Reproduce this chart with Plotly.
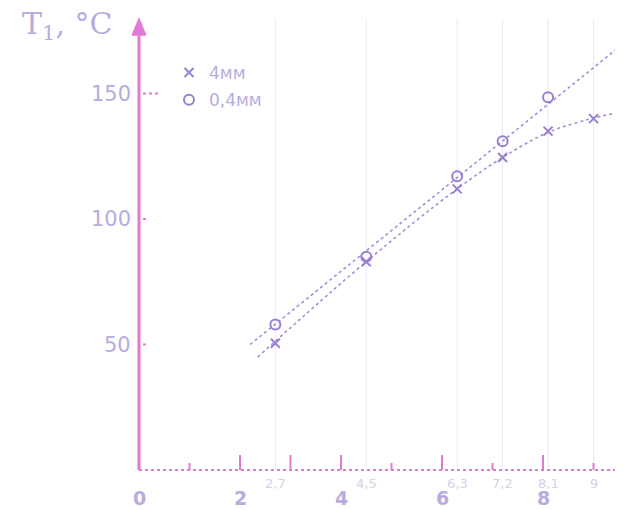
import plotly.graph_objects as go

# ---- data ----
x_pts = [2.7, 4.5, 6.3, 7.2, 8.1, 9.0]
t_4mm = [50.5, 83, 112, 124.5, 135, 140]          # crosses
x_pts_04 = [2.7, 4.5, 6.3, 7.2, 8.1]
t_04mm = [58, 85, 117, 131, 148.5]                 # circles

# drawn trend lines
line_04_x = [2.2, 9.6]
line_04_y = [50, 170]
line_4_x = [2.35, 4.5, 6.3, 7.2, 8.1, 9.0, 9.65]
line_4_y = [45, 83, 112, 124.5, 134.5, 140.2, 143]

major_x_labels = [0, 2, 4, 6, 8]
minor_x_vals = [2.7, 4.5, 6.3, 7.2, 8.1, 9]
minor_x_labels = ["2,7", "4,5", "6,3", "7,2", "8,1", "9"]
tall_ticks = [2, 3, 4, 6, 8]
short_ticks = [1, 5, 7, 9]
y_labels = [50, 100, 150]

W, H = 623, 510
PX_X = 50.5
PX_Y = 2.51
PADL, PADB = 12, 10          # px of room left of / below the axes
ML, MT, MB = 119, 4, 38
XL = PADL / PX_X
YB = PADB / PX_Y
X_MAX = (W - ML) / PX_X - XL
Y_MAX = (H - MT - MB) / PX_Y - YB
Y_TIP = 180.0

axis_col = "#e07ad4"
text_col = "#b9abe0"
mark_col = "#9a7fd0"
line_col = "#a98ad8"

fig = go.Figure()

fig.add_trace(go.Scatter(x=line_04_x, y=line_04_y, mode="lines",
                         line=dict(color=line_col, width=1.6, dash="dot"),
                         showlegend=False, hoverinfo="skip"))
fig.add_trace(go.Scatter(x=line_4_x, y=line_4_y, mode="lines", line_shape="spline",
                         line=dict(color=line_col, width=1.6, dash="dot"),
                         showlegend=False, hoverinfo="skip"))
fig.add_trace(go.Scatter(x=x_pts, y=t_4mm, mode="markers", name="4мм",
                         legendgroup="a",
                         marker=dict(symbol="x-thin-open", size=9, color=mark_col,
                                     line=dict(width=2, color=mark_col))))
fig.add_trace(go.Scatter(x=x_pts_04, y=t_04mm, mode="markers", name="0,4мм",
                         legendgroup="b",
                         marker=dict(symbol="circle-open", size=10, color=mark_col,
                                     line=dict(width=2, color=mark_col))))

shapes = []
# faint vertical guide lines
for v in minor_x_vals:
    shapes.append(dict(type="line", xref="x", yref="y", x0=v, x1=v, y0=0, y1=Y_TIP,
                       layer="below",
                       line=dict(color="rgba(215,205,240,0.45)", width=1)))
# axes
shapes.append(dict(type="line", xref="x", yref="y", x0=0, x1=X_MAX, y0=0, y1=0,
                   line=dict(color=axis_col, width=2, dash="dot")))
shapes.append(dict(type="line", xref="x", yref="y", x0=0, x1=0, y0=0, y1=Y_TIP - 8 / PX_Y,
                   line=dict(color=axis_col, width=3)))
# x ticks
for v in tall_ticks:
    shapes.append(dict(type="line", xref="x", yref="y", x0=v, x1=v, y0=0, y1=15 / PX_Y,
                       line=dict(color=axis_col, width=2)))
for v in short_ticks:
    shapes.append(dict(type="line", xref="x", yref="y", x0=v, x1=v, y0=0, y1=7 / PX_Y,
                       line=dict(color=axis_col, width=2)))
# y ticks
for v in y_labels:
    ln = 16 if v == 150 else 6
    shapes.append(dict(type="line", xref="x", yref="y", x0=4 / PX_X, x1=(4 + ln) / PX_X,
                       y0=v, y1=v, line=dict(color=axis_col, width=2, dash="dot")))
# arrow head on y axis
shapes.append(dict(type="path", xref="x", yref="y",
                   path=f"M {-7/PX_X} {Y_TIP-17/PX_Y} L 0 {Y_TIP} L {7/PX_X} {Y_TIP-17/PX_Y} Z",
                   fillcolor=axis_col, line=dict(color=axis_col, width=1)))

annotations = []
for v in major_x_labels:
    annotations.append(dict(x=v, y=0, xref="x", yref="y", text=str(v), showarrow=False,
                            yshift=-28, font=dict(size=19, color=text_col,
                                                  family="DejaVu Sans", weight="bold")))
for v, t in zip(minor_x_vals, minor_x_labels):
    annotations.append(dict(x=v, y=0, xref="x", yref="y", text=t, showarrow=False,
                            yshift=-13, font=dict(size=13, color="#d6d0e6",
                                                  family="DejaVu Sans")))
for v in y_labels:
    annotations.append(dict(x=0, y=v, xref="x", yref="y", text=str(v), showarrow=False,
                            xanchor="right", xshift=-6,
                            font=dict(size=21, color=text_col, family="DejaVu Sans")))
# axis title (screen position ~ (20, 24); page body offset 8 px)
annotations.append(dict(x=(20 - 8 - ML) / (W - ML), y=(H - MB - (25 - 8)) / (H - MT - MB),
                        xref="paper", yref="paper", xanchor="left", yanchor="middle",
                        text="T<sub>1</sub>, °C", showarrow=False,
                        font=dict(size=30, color=text_col, family="DejaVu Serif")))

fig.update_layout(
    width=W, height=H,
    margin=dict(l=ML, r=0, t=MT, b=MB),
    paper_bgcolor="white", plot_bgcolor="white",
    xaxis=dict(range=[-XL, X_MAX], visible=False, fixedrange=True),
    yaxis=dict(range=[-YB, Y_MAX], visible=False, fixedrange=True),
    shapes=shapes, annotations=annotations,
    legend=dict(x=(169 - 8 - ML) / (W - ML), y=(H - MB - (55 - 8)) / (H - MT - MB),
                xanchor="left", yanchor="top",
                font=dict(size=17, color=text_col, family="DejaVu Sans"),
                bgcolor="rgba(0,0,0,0)", tracegroupgap=2),
)

fig.write_html("out.html")
